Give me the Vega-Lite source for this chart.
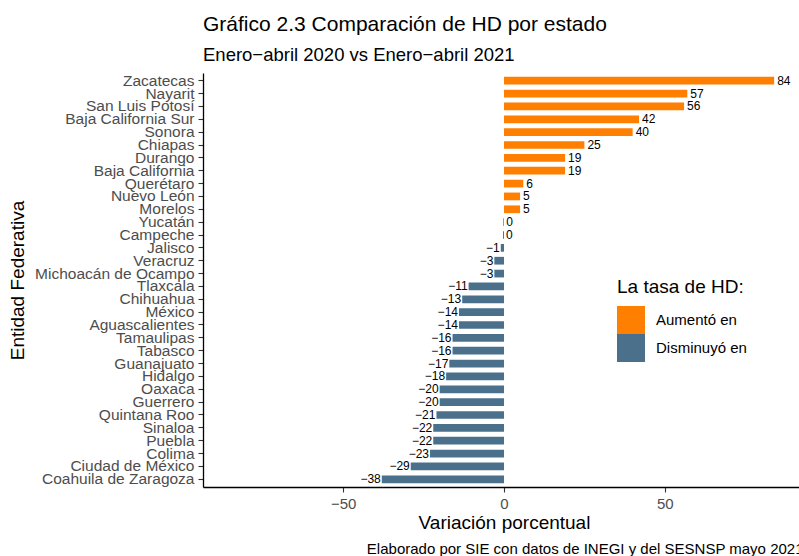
{
  "$schema": "https://vega.github.io/schema/vega-lite/v6.json",
  "autosize": {"type": "none"},
  "padding": {"left": 203, "top": 73, "right": 0, "bottom": 69},
  "width": 602,
  "height": 414,
  "background": "white",
  "config": {
    "font": "Liberation Sans",
    "view": {"stroke": null},
    "axis": {"grid": false, "labelFont": "Liberation Sans", "titleFont": "Liberation Sans", "titleFontWeight": "normal", "titleColor": "black", "labelColor": "#4D4D4D", "labelFontSize": 15, "titleFontSize": 19, "domainColor": "black", "domainWidth": 1.3, "tickColor": "#333333", "tickSize": 5, "tickWidth": 1.1, "labelPadding": 4},
    "legend": {"titleFont": "Liberation Sans", "labelFont": "Liberation Sans", "titleFontWeight": "normal"}
  },
  "title": {
    "text": "Gráfico 2.3 Comparación de HD por estado",
    "subtitle": "Enero−abril 2020 vs Enero−abril 2021",
    "anchor": "start",
    "frame": "group",
    "font": "Liberation Sans",
    "fontSize": 21,
    "fontWeight": "normal",
    "color": "black",
    "subtitleFont": "Liberation Sans",
    "subtitleFontSize": 18.5,
    "subtitleColor": "black",
    "subtitlePadding": 11,
    "offset": 9
  },
  "data": {
    "values": [
      {"estado": "Zacatecas", "valor": 84, "etiqueta": 84, "texto": "84", "tipo": "Aumentó en"},
      {"estado": "Nayarit", "valor": 57, "etiqueta": 57, "texto": "57", "tipo": "Aumentó en"},
      {"estado": "San Luis Potosí", "valor": 56, "etiqueta": 56, "texto": "56", "tipo": "Aumentó en"},
      {"estado": "Baja California Sur", "valor": 42, "etiqueta": 42, "texto": "42", "tipo": "Aumentó en"},
      {"estado": "Sonora", "valor": 40, "etiqueta": 40, "texto": "40", "tipo": "Aumentó en"},
      {"estado": "Chiapas", "valor": 25, "etiqueta": 25, "texto": "25", "tipo": "Aumentó en"},
      {"estado": "Durango", "valor": 19, "etiqueta": 19, "texto": "19", "tipo": "Aumentó en"},
      {"estado": "Baja California", "valor": 19, "etiqueta": 19, "texto": "19", "tipo": "Aumentó en"},
      {"estado": "Querétaro", "valor": 6, "etiqueta": 6, "texto": "\u00a06", "tipo": "Aumentó en"},
      {"estado": "Nuevo León", "valor": 5, "etiqueta": 5, "texto": "\u00a05", "tipo": "Aumentó en"},
      {"estado": "Morelos", "valor": 5, "etiqueta": 5, "texto": "\u00a05", "tipo": "Aumentó en"},
      {"estado": "Yucatán", "valor": -0.2, "etiqueta": 0, "texto": "0", "tipo": "Disminuyó en"},
      {"estado": "Campeche", "valor": -0.3, "etiqueta": 0, "texto": "0", "tipo": "Disminuyó en"},
      {"estado": "Jalisco", "valor": -1, "etiqueta": -1, "texto": "−1", "tipo": "Disminuyó en"},
      {"estado": "Veracruz", "valor": -3, "etiqueta": -3, "texto": "−3", "tipo": "Disminuyó en"},
      {"estado": "Michoacán de Ocampo", "valor": -3, "etiqueta": -3, "texto": "−3", "tipo": "Disminuyó en"},
      {"estado": "Tlaxcala", "valor": -11, "etiqueta": -11, "texto": "−11", "tipo": "Disminuyó en"},
      {"estado": "Chihuahua", "valor": -13, "etiqueta": -13, "texto": "−13", "tipo": "Disminuyó en"},
      {"estado": "México", "valor": -14, "etiqueta": -14, "texto": "−14", "tipo": "Disminuyó en"},
      {"estado": "Aguascalientes", "valor": -14, "etiqueta": -14, "texto": "−14", "tipo": "Disminuyó en"},
      {"estado": "Tamaulipas", "valor": -16, "etiqueta": -16, "texto": "−16", "tipo": "Disminuyó en"},
      {"estado": "Tabasco", "valor": -16, "etiqueta": -16, "texto": "−16", "tipo": "Disminuyó en"},
      {"estado": "Guanajuato", "valor": -17, "etiqueta": -17, "texto": "−17", "tipo": "Disminuyó en"},
      {"estado": "Hidalgo", "valor": -18, "etiqueta": -18, "texto": "−18", "tipo": "Disminuyó en"},
      {"estado": "Oaxaca", "valor": -20, "etiqueta": -20, "texto": "−20", "tipo": "Disminuyó en"},
      {"estado": "Guerrero", "valor": -20, "etiqueta": -20, "texto": "−20", "tipo": "Disminuyó en"},
      {"estado": "Quintana Roo", "valor": -21, "etiqueta": -21, "texto": "−21", "tipo": "Disminuyó en"},
      {"estado": "Sinaloa", "valor": -22, "etiqueta": -22, "texto": "−22", "tipo": "Disminuyó en"},
      {"estado": "Puebla", "valor": -22, "etiqueta": -22, "texto": "−22", "tipo": "Disminuyó en"},
      {"estado": "Colima", "valor": -23, "etiqueta": -23, "texto": "−23", "tipo": "Disminuyó en"},
      {"estado": "Ciudad de México", "valor": -29, "etiqueta": -29, "texto": "−29", "tipo": "Disminuyó en"},
      {"estado": "Coahuila de Zaragoza", "valor": -38, "etiqueta": -38, "texto": "−38", "tipo": "Disminuyó en"}
    ]
  },
  "encoding": {
    "y": {
      "field": "estado",
      "type": "nominal",
      "sort": null,
      "scale": {"paddingInner": 0.4, "paddingOuter": 0.3},
      "axis": {"title": "Entidad Federativa", "titlePadding": 7, "labelFontSize": 15.5}
    }
  },
  "layer": [
    {
      "mark": {"type": "bar"},
      "encoding": {
        "x": {
          "field": "valor",
          "type": "quantitative",
          "scale": {"domain": [-93.6, 93.6], "nice": false, "zero": false},
          "axis": {"title": "Variación porcentual", "values": [-50, 0, 50], "titlePadding": 2, "orient": "bottom"}
        },
        "x2": {"datum": 0},
        "color": {
          "field": "tipo",
          "type": "nominal",
          "scale": {"domain": ["Aumentó en", "Disminuyó en"], "range": ["#FF7F00", "#4A708B"]},
          "legend": {
            "title": "La tasa de HD:",
            "orient": "none",
            "legendX": 414,
            "legendY": 205,
            "titleFontSize": 19,
            "titleColor": "black",
            "titlePadding": 9,
            "labelFontSize": 15,
            "labelColor": "black",
            "labelOffset": 11,
            "symbolType": "square",
            "symbolSize": 784,
            "symbolStrokeWidth": 0,
            "symbolOpacity": 1,
            "rowPadding": 0
          }
        }
      }
    },
    {
      "transform": [{"filter": "datum.etiqueta >= 0"}],
      "mark": {"type": "text", "align": "left", "baseline": "middle", "dx": 3, "fontSize": 12, "color": "black", "font": "Liberation Sans"},
      "encoding": {
        "x": {"field": "valor", "type": "quantitative", "scale": {"domain": [-93.6, 93.6], "nice": false, "zero": false}, "axis": null},
        "text": {"field": "texto"}
      }
    },
    {
      "transform": [{"filter": "datum.etiqueta < 0"}],
      "mark": {"type": "text", "align": "right", "baseline": "middle", "dx": -1, "fontSize": 12, "color": "black", "font": "Liberation Sans"},
      "encoding": {
        "x": {
          "field": "valor",
          "type": "quantitative",
          "scale": {"domain": [-93.6, 93.6], "nice": false, "zero": false},
          "axis": {
            "orient": "bottom",
            "title": "Elaborado por SIE con datos de INEGI y del SESNSP mayo 2021",
            "labels": false, "ticks": false, "domain": false,
            "titleFontSize": 15, "titleColor": "black",
            "titleAnchor": "end", "titleAlign": "right", "titleBaseline": "alphabetic",
            "titleX": 600, "titleY": 66
          }
        },
        "text": {"field": "texto"}
      }
    }
  ],
  "resolve": {"scale": {"x": "independent"}}
}
